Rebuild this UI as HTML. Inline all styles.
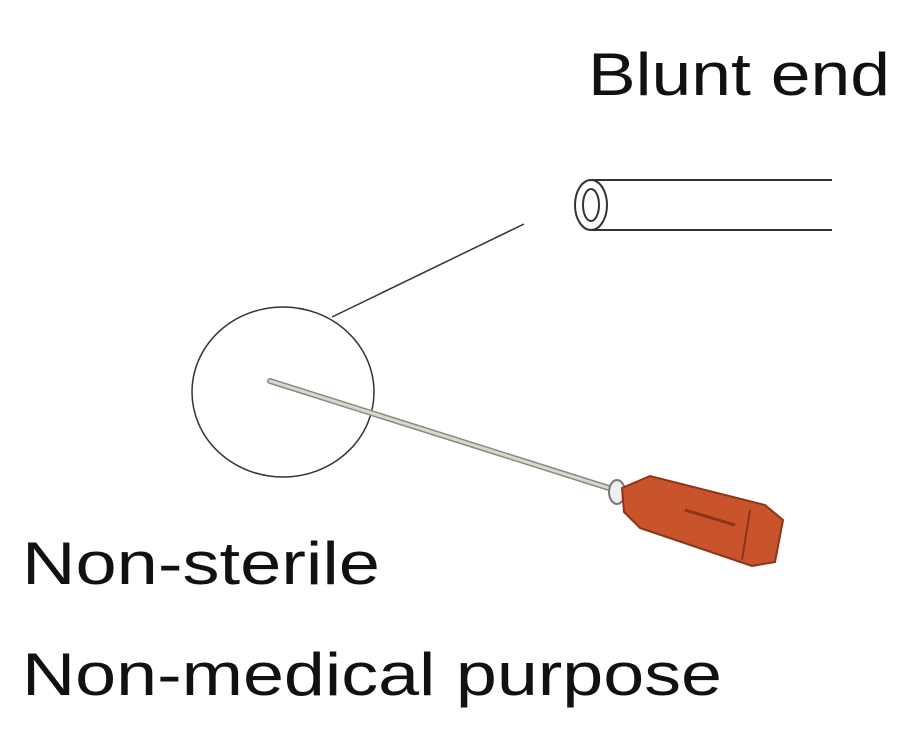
<!DOCTYPE html>
<html><head><style>html,body{margin:0;padding:0;background:#fff;}svg{display:block}</style></head>
<body>
<svg width="910" height="743" viewBox="0 0 910 743" xmlns="http://www.w3.org/2000/svg">
<rect width="910" height="743" fill="#fff"/>
<g font-family="Liberation Sans, DejaVu Sans, sans-serif" fill="#111" font-size="60">
<text x="588" y="95" textLength="302" lengthAdjust="spacingAndGlyphs">Blunt end</text>
<text x="22" y="584" textLength="358" lengthAdjust="spacingAndGlyphs">Non-sterile</text>
<text x="22" y="695" textLength="700" lengthAdjust="spacingAndGlyphs">Non-medical purpose</text>
</g>
<g stroke="#333" stroke-width="2" fill="none">
<line x1="590" y1="180" x2="832" y2="180"/>
<line x1="590" y1="230" x2="832" y2="230"/>
<ellipse cx="591" cy="205" rx="16" ry="25" fill="#fff"/>
<ellipse cx="591" cy="205" rx="8" ry="16"/>
<ellipse cx="283" cy="392" rx="91" ry="85" stroke-width="1.5"/>
<line x1="332" y1="317" x2="524" y2="224" stroke-width="1.5"/>
</g>
<line x1="270" y1="381" x2="612" y2="489" stroke="#8a8a80" stroke-width="6" stroke-linecap="round"/>
<line x1="270" y1="381" x2="612" y2="489" stroke="#d8d8d0" stroke-width="3" stroke-linecap="round"/>
<ellipse cx="617" cy="492" rx="8" ry="12" fill="#eee" stroke="#777" stroke-width="2"/>
<polygon points="622,488 650,476 765,505 783,520 775,562 752,566 640,528 624,512" fill="#c9532a" stroke="#8a3518" stroke-width="2"/>
<line x1="685" y1="510" x2="735" y2="525" stroke="#8a3518" stroke-width="3"/>
<line x1="750" y1="510" x2="742" y2="560" stroke="#8a3518" stroke-width="2"/>
</svg>
</body></html>
